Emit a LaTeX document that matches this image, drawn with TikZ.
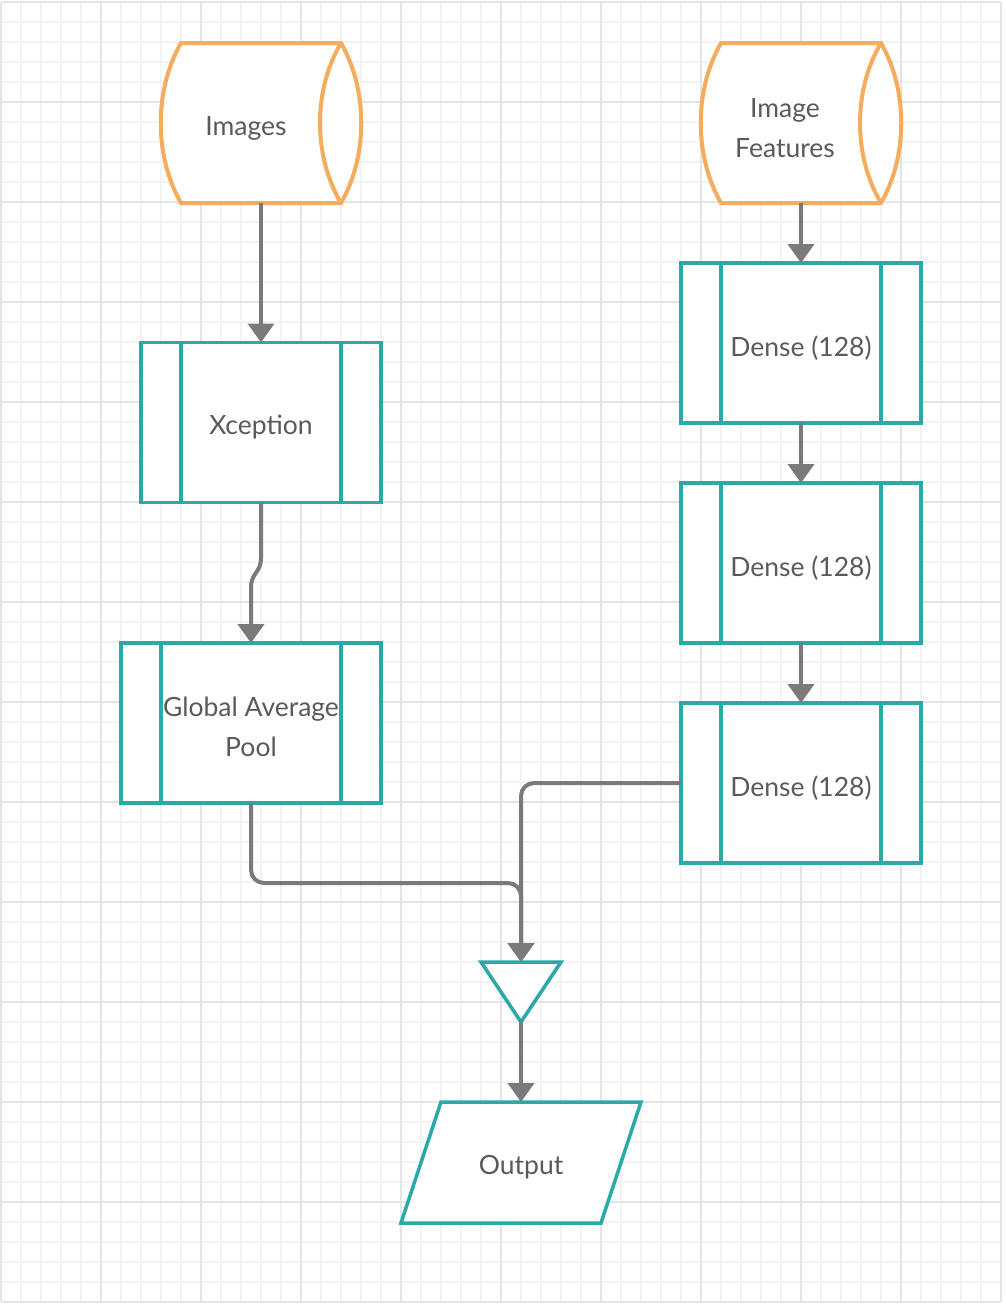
\documentclass[tikz,border=0pt]{standalone}
\usepackage{fontspec}
\setmainfont{Lato}
\usetikzlibrary{arrows.meta,calc}
\definecolor{gridminor}{RGB}{243,243,243}
\definecolor{gridmajor}{RGB}{228,228,228}
\definecolor{tealline}{RGB}{41,170,168}
\definecolor{orangeline}{RGB}{245,172,92}
\definecolor{connline}{RGB}{122,122,122}
\definecolor{labeltext}{RGB}{90,90,90}
\tikzset{
  hidden/.style={rectangle,inner sep=0pt,outer sep=0pt,draw=none,
    text=labeltext,font=\fontsize{26.5}{40}\selectfont,align=center},
  procbox/.style={hidden,minimum width=240pt,minimum height=160pt},
  tealdraw/.style={draw=tealline,line width=3.5pt,line join=miter},
  orangedraw/.style={draw=orangeline,line width=4pt},
  conn/.style={draw=connline,line width=4pt,-{Triangle[length=19pt,width=26pt]}},
}
\begin{document}
\begin{tikzpicture}[x=1pt,y=-1pt]
\useasboundingbox (0,0) rectangle (1006,1304);
\fill[white] (0,0) rectangle (1006,1304);
% background grid
\foreach \x in {1,21,...,1001} \draw[gridminor,line width=1.2pt] (\x,2) -- (\x,1302);
\foreach \y in {2,22,...,1302} \draw[gridminor,line width=1.2pt] (1,\y) -- (1001,\y);
\foreach \x in {1,101,...,1001} \draw[gridmajor,line width=1.6pt] (\x,2) -- (\x,1302);
\foreach \y in {2,102,...,1302} \draw[gridmajor,line width=1.6pt] (1,\y) -- (1001,\y);

% stored data shapes
\node[hidden,minimum width=160pt,minimum height=160pt] (img) at (261,123) {};
\node[hidden,minimum width=160pt,minimum height=160pt] (feat) at (801,123) {};
\foreach \n in {img,feat}{
  \filldraw[fill=white,orangedraw,line join=miter]
    (\n.north west) -- (\n.north east)
    .. controls ($(\n.north east)+(27,47)$) and ($(\n.south east)+(27,-47)$) .. (\n.south east)
    -- (\n.south west)
    .. controls ($(\n.south west)+(-27,-47)$) and ($(\n.north west)+(-27,47)$) .. (\n.north west) -- cycle;
  \draw[orangedraw]
    (\n.north east)
    .. controls ($(\n.north east)+(-28,47)$) and ($(\n.south east)+(-28,-47)$) .. (\n.south east);
}
\node[hidden] at ($(img)+(-15,5)$) {Images};
\node[hidden] at ($(feat)+(-16,5)$) {Image\\Features};

% process boxes
\node[procbox] (xc) at (261,422.5) {};
\node[procbox,minimum width=260pt] (gap) at (251,723) {};
\node[procbox] (d1) at (801,343) {};
\node[procbox] (d2) at (801,563) {};
\node[procbox] (d3) at (801,783) {};
\foreach \n in {xc,gap,d1,d2,d3}{
  \filldraw[fill=white,tealdraw] (\n.north west) rectangle (\n.south east);
  \draw[tealdraw] ([xshift=40pt]\n.north west) -- ([xshift=40pt]\n.south west);
  \draw[tealdraw] ([xshift=-40pt]\n.north east) -- ([xshift=-40pt]\n.south east);
}
\node[hidden] at ($(xc)+(0,5)$) {Xception};
\node[hidden] at ($(gap)+(0,4)$) {Global Average\\Pool};
\node[hidden] at ($(d1)+(0,5)$) {Dense (128)};
\node[hidden] at ($(d2)+(0,5)$) {Dense (128)};
\node[hidden] at ($(d3)+(0,5)$) {Dense (128)};

% merge triangle
\node[hidden,minimum width=80pt,minimum height=60pt] (merge) at (521,992) {};
\filldraw[fill=white,tealdraw] (merge.north west) -- (merge.north east) -- (merge.south) -- cycle;

% output parallelogram
\node[hidden,minimum width=240pt,minimum height=121pt] (out) at (521,1162.5) {};
\filldraw[fill=white,tealdraw]
  ([xshift=40pt]out.north west) -- (out.north east)
  -- ([xshift=-40pt]out.south east) -- (out.south west) -- cycle;
\node[hidden] at ($(out)+(0,5)$) {Output};

% connectors
\draw[conn] (img.south) -- (xc.north);
\draw[conn] (feat.south) -- (d1.north);
\draw[conn] (d1.south) -- (d2.north);
\draw[conn] (d2.south) -- (d3.north);
\draw[conn] (xc.south) -- ++(0,55)
  .. controls +(0,16) and +(0,-16) .. ($(gap.north)+(0,-55)$) -- (gap.north);
\draw[conn,rounded corners=13pt] (gap.south) |- ($(merge.north)+(0,-79)$) -- (merge.north);
\draw[conn,rounded corners=13pt] (d3.west) -| (merge.north);
\draw[conn] (merge.south) -- (out.north);
\end{tikzpicture}
\end{document}
